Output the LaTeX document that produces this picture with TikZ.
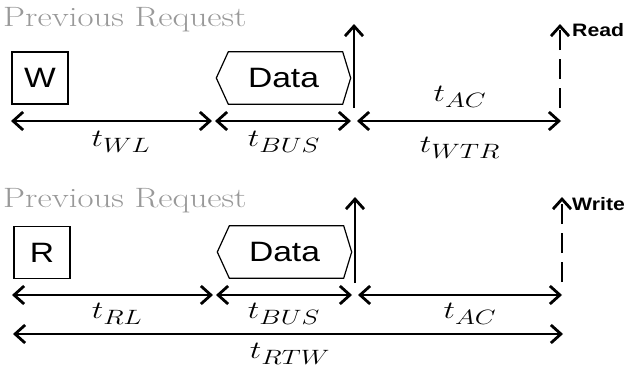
\documentclass[tikz,border=0pt]{standalone}
\usepackage{fontspec}
\usepackage{graphicx}
\newfontfamily\labelsans{Liberation Sans}
\usetikzlibrary{arrows.meta}
% text in this figure is set slightly wide
\newcommand{\widetext}[2][1.2]{\scalebox{#1}[1]{#2}}
\tikzset{
  barb/.tip={Straight Barb[length=10pt,width=18pt,line width=2.8pt]},
  timing/.style={line width=2.3pt, barb-barb},
  marker/.style={line width=2.5pt, -barb},
  prevtext/.style={text=black!40, font=\fontsize{28}{34}\selectfont, inner sep=0pt},
  cmdbox/.style={draw, line width=1.2pt, minimum width=56pt, minimum height=52pt, inner sep=0pt, font=\labelsans\fontsize{28}{32}\selectfont},
  datatext/.style={minimum width=134pt, minimum height=52pt, inner sep=0pt, font=\labelsans\fontsize{28}{32}\selectfont},
  hexline/.style={line width=1.2pt, line join=miter},
  tlabel/.style={font=\fontsize{30}{36}\selectfont, inner sep=0pt},
  cmdlabel/.style={anchor=west, inner sep=0pt, font=\labelsans\bfseries\fontsize{18}{20}\selectfont}
}
\begin{document}
\begin{tikzpicture}[x=1pt,y=-1pt]
\useasboundingbox (0,0) rectangle (624,372);

% ---- write-to-read turnaround ----
\node[prevtext, anchor=base west] (prev1) at (3,27) {\widetext[1.25]{Previous Request}};
\node[cmdbox] (w) at (40,78) {\widetext{W}};
\node[datatext] (data1) at (283.5,78) {\widetext{Data}};
\draw[hexline] (data1.west) -- ([xshift=12pt]data1.north west) -- ([xshift=-8pt]data1.north east)
  -- (data1.east) -- ([xshift=-8pt]data1.south east) -- ([xshift=12pt]data1.south west) -- cycle;

\coordinate (a0) at (11,121);
\coordinate (a1) at (212,121);
\coordinate (a2) at (215,121);
\coordinate (a3) at (351,121);
\coordinate (a4) at (357,121);
\coordinate (a5) at (561,121);
\draw[timing] (a0) -- (a1);
\draw[timing] (a2) -- (a3);
\draw[timing] (a4) -- (a5);

\coordinate (b1lo) at (354,108);
\coordinate (b1hi) at (354,24);
\draw[marker] (b1lo) -- (b1hi);
\coordinate (r1lo) at (560,108);
\coordinate (r1hi) at (560,24);
\draw[marker, dash pattern=on 20pt off 9pt] (r1lo) -- (r1hi);
\node[cmdlabel] (read) at (572,30) {\widetext[1.18]{Read}};

\node[tlabel] (twl) at (121,142) {\widetext[1.3]{$t_{WL}$}};
\node[tlabel] (tbus1) at (284,142) {\widetext[1.3]{$t_{BUS}$}};
\node[tlabel] (tac1) at (460,97) {\widetext[1.3]{$t_{AC}$}};
\node[tlabel] (twtr) at (460,148) {\widetext[1.3]{$t_{WTR}$}};

% ---- read-to-write turnaround ----
\node[prevtext, anchor=base west] (prev2) at (3,207) {\widetext[1.25]{Previous Request}};
\node[cmdbox] (r) at (42,252.5) {\widetext{R}};
\node[datatext] (data2) at (284.5,252) {\widetext{Data}};
\draw[hexline] (data2.west) -- ([xshift=12pt]data2.north west) -- ([xshift=-8pt]data2.north east)
  -- (data2.east) -- ([xshift=-8pt]data2.south east) -- ([xshift=12pt]data2.south west) -- cycle;

\coordinate (c0) at (12,295);
\coordinate (c1) at (213,295);
\coordinate (c2) at (216,295);
\coordinate (c3) at (352,295);
\coordinate (c4) at (358,295);
\coordinate (c5) at (562,295);
\draw[timing] (c0) -- (c1);
\draw[timing] (c2) -- (c3);
\draw[timing] (c4) -- (c5);
\coordinate (d0) at (13,334);
\coordinate (d1) at (563,334);
\draw[timing] (d0) -- (d1);

\coordinate (b2lo) at (355,283);
\coordinate (b2hi) at (355,197);
\draw[marker] (b2lo) -- (b2hi);
\coordinate (r2lo) at (562,282);
\coordinate (r2hi) at (562,197);
\draw[marker, dash pattern=on 20pt off 9pt] (r2lo) -- (r2hi);
\node[cmdlabel] (write) at (572,204) {\widetext[1.18]{Write}};

\node[tlabel] (trl) at (117,314) {\widetext[1.3]{$t_{RL}$}};
\node[tlabel] (tbus2) at (284,314) {\widetext[1.3]{$t_{BUS}$}};
\node[tlabel] (tac2) at (470,314) {\widetext[1.3]{$t_{AC}$}};
\node[tlabel] (trtw) at (290,354) {\widetext[1.3]{$t_{RTW}$}};
\end{tikzpicture}
\end{document}
